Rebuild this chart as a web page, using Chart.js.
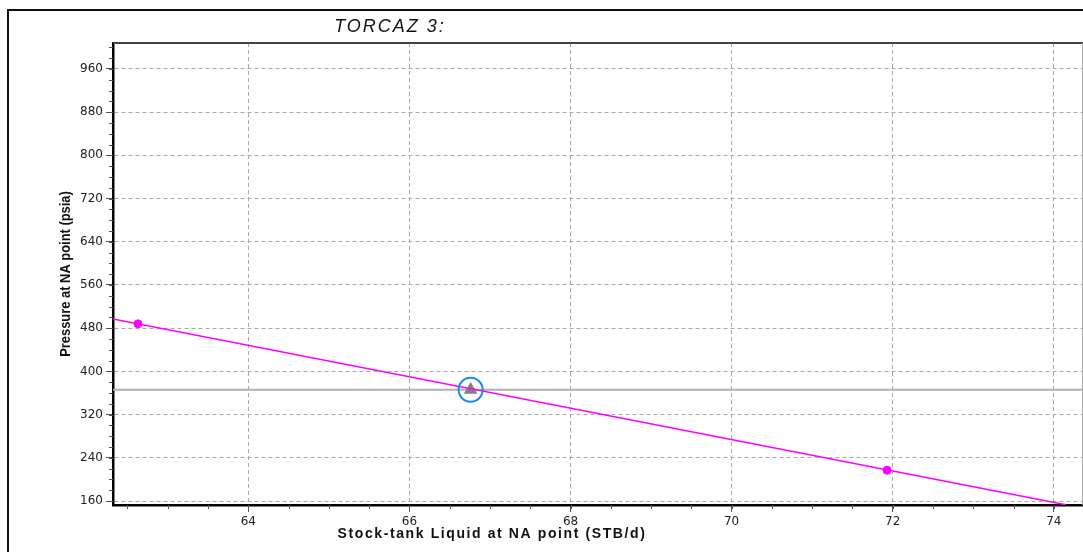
<!DOCTYPE html>
<html>
<head>
<meta charset="utf-8">
<script src="https://cdn.jsdelivr.net/npm/chart.js@4.4.1/dist/chart.umd.min.js"></script>
<style>
  html, body { margin: 0; padding: 0; background: #fff; overflow: hidden; }
  canvas { display: block; }
</style>
</head>
<body>
<canvas id="chart" width="1083" height="552"></canvas>
<script>
// axis ranges and ticks
const xRange = [62.32, 74.35];
const yRange = [152.6, 1008];
const xTicks = [64, 66, 68, 70, 72, 74];
const yTicks = [160, 240, 320, 400, 480, 560, 640, 720, 800, 880, 960];
const xMinorStep = 0.5;
const yMinorStep = 20;

// inflow/outflow line (magenta) and its calculated points
const lineX = [62.32, 74.15];
const lineY = [497, 153];
const pointX = [62.63, 71.93];
const pointY = [488, 217];

// solution point and its pressure reference line
const solX = [66.76];
const solY = [366];
const refLineX = [62.32, 74.35];
const refLineY = [366, 366];

const toXY = (xs, ys) => xs.map((x, i) => ({ x: x, y: ys[i] }));

const tickFont = { family: "DejaVu Sans", size: 12 };

const decor = {
  id: "decor",
  beforeDraw(chart) {
    const ctx = chart.ctx;
    ctx.save();
    ctx.fillStyle = "#fff";
    ctx.fillRect(0, 0, chart.width, chart.height);
    // outer frame
    ctx.strokeStyle = "#111";
    ctx.lineWidth = 2;
    ctx.beginPath();
    ctx.moveTo(8, chart.height);
    ctx.lineTo(8, 10);
    ctx.lineTo(chart.width, 10);
    ctx.stroke();
    ctx.restore();
  },
  afterDraw(chart) {
    const ctx = chart.ctx;
    const a = chart.chartArea;
    const xs = chart.scales.x, ys = chart.scales.y;
    ctx.save();

    // top and right borders of the plot
    ctx.strokeStyle = "#444";
    ctx.lineWidth = 2;
    ctx.beginPath();
    ctx.moveTo(a.left, a.top);
    ctx.lineTo(chart.width, a.top);
    ctx.stroke();
    ctx.strokeStyle = "#aaa";
    ctx.lineWidth = 1;
    ctx.beginPath();
    ctx.moveTo(a.right + 0.5, a.top);
    ctx.lineTo(a.right + 0.5, a.bottom);
    ctx.stroke();

    // minor ticks
    ctx.strokeStyle = "#555";
    ctx.lineWidth = 1;
    ctx.beginPath();
    for (let v = Math.ceil(yRange[0] / yMinorStep) * yMinorStep; v <= yRange[1]; v += yMinorStep) {
      const py = Math.round(ys.getPixelForValue(v)) + 0.5;
      ctx.moveTo(a.left - 4, py);
      ctx.lineTo(a.left, py);
    }
    for (let v = Math.ceil(xRange[0] / xMinorStep) * xMinorStep; v <= xRange[1]; v += xMinorStep) {
      const px = Math.round(xs.getPixelForValue(v)) + 0.5;
      ctx.moveTo(px, a.bottom);
      ctx.lineTo(px, a.bottom + 4);
    }
    ctx.stroke();

    // title
    ctx.fillStyle = "#111";
    ctx.textAlign = "center";
    ctx.textBaseline = "middle";
    ctx.font = 'italic 18px "Liberation Sans"';
    ctx.letterSpacing = "2px";
    ctx.fillText("TORCAZ 3:", 390, 27);

    // x axis title
    ctx.font = 'bold 14px "Liberation Sans"';
    ctx.letterSpacing = "1.6px";
    ctx.fillText("Stock-tank Liquid at NA point (STB/d)", 492, 534);

    // y axis title (condensed)
    ctx.letterSpacing = "0px";
    ctx.translate(66, 274);
    ctx.rotate(-Math.PI / 2);
    ctx.scale(0.86, 1);
    ctx.font = 'bold 15px "Liberation Sans"';
    ctx.fillText("Pressure at NA point (psia)", 0, 0);
    ctx.restore();
  }
};

new Chart(document.getElementById("chart"), {
  type: "scatter",
  data: {
    datasets: [
      {
        label: "solution marker",
        data: toXY(solX, solY),
        pointStyle: "circle",
        pointRadius: 12,
        pointBorderWidth: 2,
        pointBorderColor: "#1e88e5",
        pointBackgroundColor: "rgba(0,0,0,0)",
        order: 0
      },
      {
        label: "line",
        data: toXY(lineX, lineY),
        showLine: true,
        borderColor: "#ff00ff",
        borderWidth: 1.5,
        pointRadius: 0,
        order: 1
      },
      {
        label: "points",
        data: toXY(pointX, pointY),
        pointStyle: "circle",
        pointRadius: 4,
        pointBackgroundColor: "#ff00ff",
        pointBorderColor: "#ff00ff",
        order: 2
      },
      {
        label: "solution",
        data: toXY(solX, solY),
        pointStyle: "triangle",
        pointRadius: 7,
        pointBackgroundColor: "#808080",
        pointBorderColor: "#808080",
        order: 3
      },
      {
        label: "reference",
        data: toXY(refLineX, refLineY),
        showLine: true,
        borderColor: "#b0b0b0",
        borderWidth: 2,
        pointRadius: 0,
        order: 4
      }
    ]
  },
  options: {
    responsive: false,
    animation: false,
    layout: { autoPadding: false, padding: { left: 0, top: 43, right: 1, bottom: 0 } },
    plugins: {
      legend: { display: false },
      tooltip: { enabled: false },
      title: { display: false }
    },
    scales: {
      x: {
        type: "linear",
        min: xRange[0],
        max: xRange[1],
        afterBuildTicks: s => { s.ticks = xTicks.map(v => ({ value: v })); },
        afterFit: s => { s.height = 47; s.paddingLeft = 0; s.paddingRight = 0; },
        grid: { color: "#aaa", lineWidth: 1, tickColor: "#555", tickLength: 7, tickBorderDash: [] },
        border: { display: true, color: "#000", width: 2.5, dash: [4, 3] },
        ticks: { font: tickFont, color: "#222", padding: 3, maxRotation: 0, autoSkip: false }
      },
      y: {
        type: "linear",
        min: yRange[0],
        max: yRange[1],
        afterBuildTicks: s => { s.ticks = yTicks.map(v => ({ value: v })); },
        afterFit: s => { s.width = 113; s.paddingTop = 0; s.paddingBottom = 0; },
        grid: { color: "#aaa", lineWidth: 1, tickColor: "#555", tickLength: 7, tickBorderDash: [] },
        border: { display: true, color: "#000", width: 2.5, dash: [4, 3] },
        ticks: { font: tickFont, color: "#222", padding: 3, autoSkip: false }
      }
    }
  },
  plugins: [decor]
});
</script>
</body>
</html>
